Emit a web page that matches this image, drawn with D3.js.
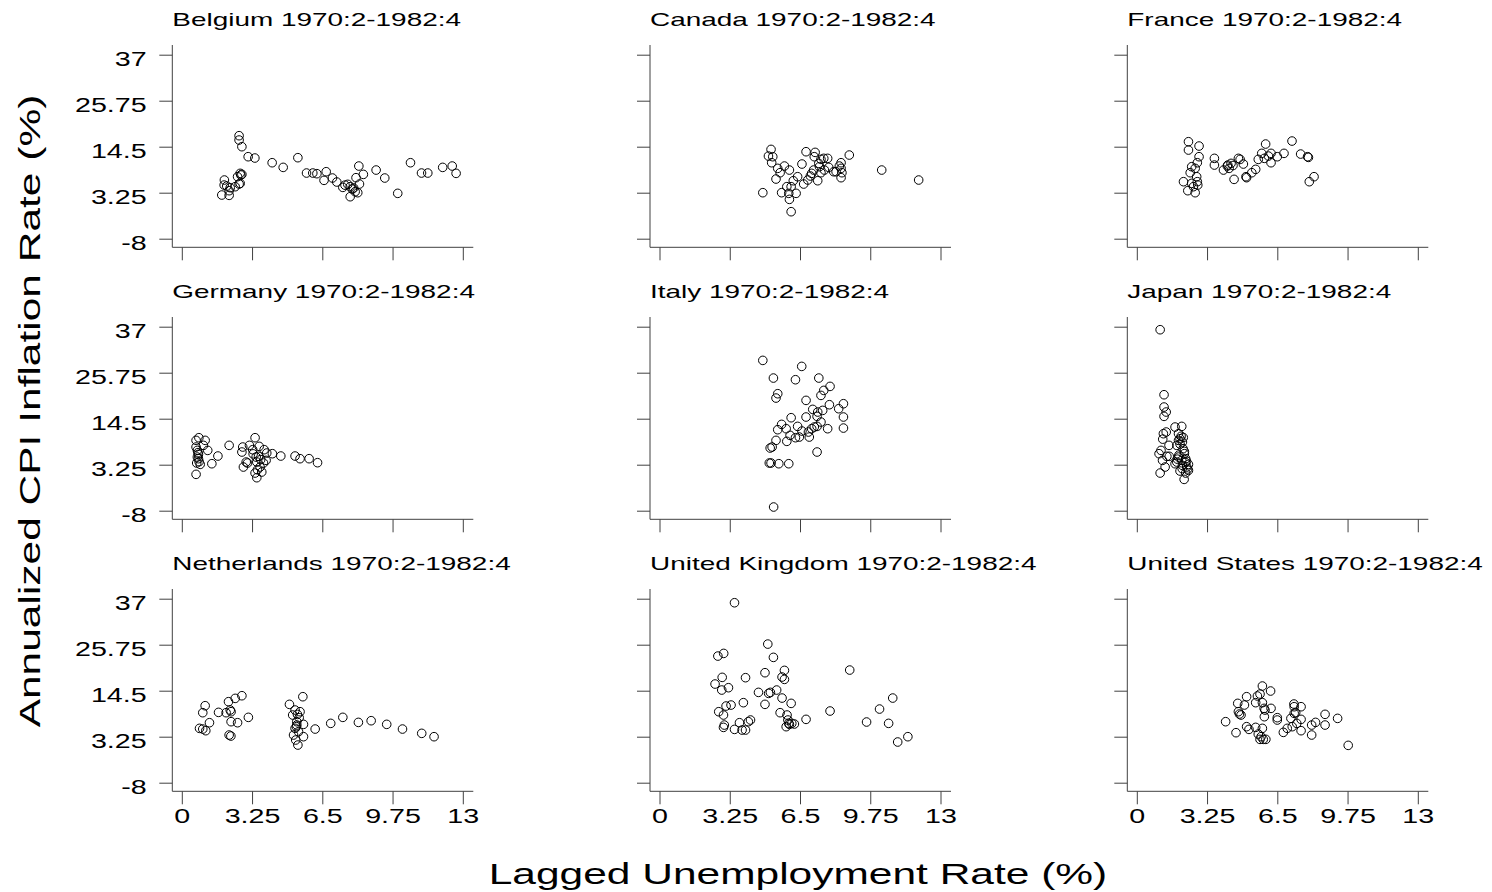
<!DOCTYPE html>
<html>
<head>
<meta charset="utf-8">
<script src="https://cdn.jsdelivr.net/npm/d3@7"></script>
<style>
  html, body { margin: 0; padding: 0; background: #fff; }
  svg { display: block; }
  text { font-family: "Liberation Sans", Arial, sans-serif; fill: #000; }
</style>
</head>
<body>
<script>
// ---- data: [lagged unemployment %, annualized CPI inflation %] ----
const belgium = [[2.65,17.19],[2.65,16.13],[2.78,14.5],[3.07,12.05],[3.38,11.73],[4.18,10.58],[4.69,9.44],[5.37,11.81],[5.77,8.06],[6.06,8.06],[6.25,7.9],[6.68,8.38],[6.58,6.27],[6.97,6.84],[7.17,5.86],[7.45,4.55],[7.68,5.29],[7.79,2.27],[7.89,4.15],[8.02,3.49],[8.14,3.25],[8.06,6.92],[8.19,9.77],[8.40,7.73],[8.22,5.37],[8.99,8.79],[9.39,6.84],[9.99,3.09],[10.58,10.58],[11.09,8.06],[11.38,8.06],[12.07,9.44],[12.51,9.77],[12.69,7.98],[1.85,2.68],[2.19,2.6],[1.97,6.35],[1.96,5.12],[2.08,4.88],[2.24,4.47],[2.19,3.74],[2.47,4.72],[2.65,5.37],[2.58,7.16],[2.70,7.98],[2.78,7.73],[2.73,7.57],[2.70,5.53],[7.79,4.72],[7.95,4.4],[7.55,5.1]];
const canada = [[4.78,3.25],[5.16,13.84],[5.04,12.21],[5.24,12.05],[5.19,10.58],[5.47,9.2],[5.58,8.14],[5.78,9.77],[6.01,8.79],[5.39,6.59],[5.65,3.25],[5.89,4.72],[5.98,3.09],[6.01,1.62],[6.09,-1.4],[6.32,3.09],[6.09,4.72],[6.19,6.18],[6.39,7.16],[6.59,10.26],[6.67,5.37],[6.78,13.27],[6.86,6.35],[6.98,7.33],[7.2,13.11],[7.16,12.05],[7.13,8.79],[7.32,6.18],[7.40,9.61],[7.47,11.4],[7.60,11.65],[7.47,8.14],[7.63,8.79],[7.78,11.65],[7.83,9.44],[8.06,8.38],[8.17,8.38],[8.32,9.77],[8.40,10.58],[8.40,9.2],[8.40,6.92],[8.44,8.14],[8.78,12.46],[10.28,8.79],[11.99,6.35],[7.37,10.42],[7.04,7.98]];
const france = [[2.39,15.72],[2.39,13.68],[2.88,14.66],[2.88,12.05],[2.80,10.58],[2.70,9.2],[2.54,9.61],[2.47,8.14],[2.16,5.94],[2.36,3.74],[2.70,3.25],[2.54,5.53],[2.77,7.16],[2.80,5.94],[2.82,5.12],[2.62,4.72],[3.59,11.65],[3.59,10.01],[4.01,8.79],[4.21,10.01],[4.27,9.2],[4.36,10.42],[4.50,6.51],[4.70,11.65],[4.78,11.4],[4.93,10.26],[5.05,7.16],[5.08,6.92],[5.32,8.14],[5.50,8.96],[5.62,11.4],[5.78,12.87],[5.90,11.65],[5.96,15.15],[6.09,12.21],[6.21,12.87],[6.21,10.58],[6.50,12.05],[6.81,12.87],[7.18,15.88],[7.58,12.7],[7.90,12.05],[7.94,11.89],[7.98,5.94],[8.20,7.16],[4.19,9.77],[4.45,9.9]];
const germany = [[0.66,9.2],[0.79,9.85],[1.08,9.2],[0.66,7.57],[0.72,6.75],[0.77,5.78],[0.77,4.72],[0.69,3.66],[0.85,3.33],[0.66,0.89],[1.0,7.98],[1.2,6.75],[1.39,3.49],[1.67,5.37],[2.19,7.98],[2.82,7.57],[2.78,6.35],[2.85,2.68],[2.98,3.9],[3.13,7.98],[3.28,6.92],[3.39,9.85],[3.44,5.12],[3.47,3.9],[3.47,0.07],[3.39,1.21],[3.70,1.46],[3.62,2.68],[3.78,3.66],[3.58,7.73],[3.81,6.92],[3.90,4.31],[3.93,6.1],[4.19,5.94],[4.58,5.37],[5.24,5.37],[5.47,4.72],[5.89,4.72],[6.28,3.74],[3.04,3.66],[3.55,5.29],[0.72,5.12],[0.75,6.2],[0.8,4.0],[3.5,2.0],[3.65,4.5],[3.3,5.9]];
const italy = [[4.78,28.76],[6.58,27.29],[5.27,24.44],[6.29,24.03],[7.37,24.44],[7.89,22.4],[7.60,21.42],[7.47,20.2],[5.47,20.61],[5.39,19.55],[6.78,18.98],[7.09,16.78],[7.32,16.13],[7.55,16.53],[7.86,17.92],[8.29,16.94],[8.51,18.16],[8.51,14.91],[8.51,12.21],[7.78,12.05],[7.29,15.07],[6.78,14.91],[6.09,14.74],[6.39,12.62],[6.59,11.48],[5.65,13.11],[5.47,11.81],[5.86,12.05],[6.04,10.42],[6.29,9.85],[6.47,10.01],[6.93,10.01],[7.04,12.05],[7.16,12.46],[7.29,12.62],[7.47,13.68],[5.39,9.2],[5.89,8.96],[5.21,7.57],[5.12,7.33],[5.16,3.66],[5.52,3.49],[5.98,3.49],[7.29,6.35],[5.28,-7.1],[6.89,11.24],[5.08,3.66]];
const japan = [[1.08,36.26],[1.26,20.36],[1.26,17.35],[1.36,16.13],[1.26,15.07],[1.23,10.83],[1.36,11.24],[1.49,7.98],[1.12,6.75],[1.03,5.94],[1.39,5.29],[1.19,4.31],[1.31,2.68],[1.08,1.21],[1.77,12.46],[2.08,12.62],[1.93,10.83],[2.0,9.61],[2.11,8.79],[1.85,7.98],[2.14,7.16],[1.85,3.9],[1.93,5.12],[2.08,4.31],[2.26,4.72],[2.39,3.33],[2.31,2.68],[2.0,1.7],[2.26,1.21],[2.19,-0.34],[2.11,3.09],[1.93,9.2],[2.2,5.94],[1.77,3.49],[2.39,1.86],[2.05,10.2],[2.15,9.9],[2.0,8.3],[2.2,6.5],[1.95,5.6],[2.3,4.1],[2.1,2.3],[2.25,3.8],[1.88,4.6],[2.35,2.2],[1.5,5.3],[1.2,9.5]];
const netherlands = [[0.82,5.29],[0.97,5.12],[1.11,4.72],[1.28,6.67],[0.97,9.12],[1.08,10.83],[1.70,9.2],[2.05,9.12],[2.16,11.81],[2.47,12.62],[2.78,13.27],[2.24,9.77],[2.28,9.36],[2.28,6.92],[2.58,6.67],[2.19,3.66],[2.27,3.41],[3.08,7.98],[4.98,11.16],[5.60,13.03],[5.24,9.77],[5.47,9.36],[5.13,8.55],[5.32,6.92],[5.63,6.27],[5.24,5.29],[5.40,4.47],[5.63,3.25],[5.27,2.44],[5.37,1.21],[5.32,6.1],[5.43,7.9],[6.17,5.12],[6.89,6.51],[7.45,7.98],[8.17,6.75],[8.76,7.16],[9.48,6.27],[10.21,5.12],[11.10,4.07],[11.67,3.25],[5.17,3.66],[5.3,5.7],[5.35,8.7]];
const unitedKingdom = [[3.47,36.01],[2.70,22.97],[2.97,23.62],[2.90,17.76],[2.57,16.13],[2.88,14.66],[3.19,15.23],[3.98,17.68],[2.74,9.36],[2.96,8.55],[3.0,6.1],[2.96,5.53],[3.08,10.75],[3.31,10.99],[3.47,5.04],[3.70,6.67],[3.82,4.88],[3.98,4.88],[4.11,6.92],[4.21,7.33],[3.88,11.57],[4.58,14.09],[4.88,18.9],[5.01,25.9],[5.27,22.65],[4.88,11.16],[5.05,13.84],[5.13,14.09],[5.42,14.66],[5.78,19.47],[5.67,17.84],[5.78,17.27],[5.67,12.7],[6.09,11.4],[5.58,9.12],[5.90,8.55],[5.94,7.33],[5.86,5.7],[6.01,6.27],[6.12,6.51],[6.24,6.35],[6.78,7.49],[7.89,9.53],[8.80,19.55],[9.58,6.84],[10.18,10.01],[10.79,12.7],[10.60,6.51],[11.02,1.95],[11.49,3.25],[5.98,6.51]];
const unitedStates = [[4.11,6.92],[4.59,4.23],[4.67,11.4],[4.70,9.36],[4.82,8.55],[4.98,11.0],[5.08,13.03],[5.08,5.7],[5.19,5.04],[5.50,11.57],[5.58,13.2],[5.70,13.68],[5.81,15.64],[5.81,11.57],[5.89,10.18],[5.93,9.77],[5.90,8.14],[6.19,14.42],[6.21,10.18],[5.50,5.53],[5.81,5.29],[5.62,3.9],[5.75,3.25],[5.70,2.6],[5.85,2.6],[5.97,2.6],[6.50,7.9],[6.50,7.33],[6.78,4.31],[6.96,5.29],[7.19,5.7],[7.13,7.73],[7.27,11.24],[7.28,10.58],[7.35,9.12],[7.40,6.51],[7.60,10.58],[7.60,7.49],[7.60,4.72],[8.09,6.1],[8.09,3.66],[8.27,6.75],[8.71,8.72],[8.71,6.1],[9.29,7.73],[9.78,1.13],[7.28,8.96],[4.75,8.8]];

const countries = ["Belgium","Canada","France","Germany","Italy","Japan","Netherlands","United Kingdom","United States"];
const countryData = [belgium, canada, france, germany, italy, japan, netherlands, unitedKingdom, unitedStates];
const period = "1970:2-1982:4";
const xTicks = [0, 3.25, 6.5, 9.75, 13];
const xTickLabels = ["0", "3.25", "6.5", "9.75", "13"];
const yTicks = [-8, 3.25, 14.5, 25.75, 37];
const yTickLabels = ["-8", "3.25", "14.5", "25.75", "37"];
const xTitle = "Lagged Unemployment Rate (%)";
const yTitle = "Annualized CPI Inflation Rate (%)";

// ---- layout ----
const W = 1492, H = 892;
const colX = [172.3, 650, 1127.3];   // y-axis line x per column
const rowY = [247.3, 519.3, 791.3];  // x-axis line y per row
const SX = 1.47;                     // horizontal text stretch
const axisColor = "#404040";

const svg = d3.select("body").append("svg").attr("width", W).attr("height", H);
svg.append("rect").attr("width", W).attr("height", H).attr("fill", "#fff");

countries.forEach((name, i) => {
  const c = i % 3, r = Math.floor(i / 3);
  const X0 = colX[c], Y0 = rowY[r];
  const x = d3.scaleLinear().domain([0, 13]).range([X0 + 9.5, X0 + 290.5]);
  const y = d3.scaleLinear().domain([-8, 37]).range([Y0 - 8.6, Y0 - 192.6]);
  const g = svg.append("g");

  // title
  g.append("text")
    .attr("transform", `translate(${X0},${Y0 - 221.3}) scale(${SX},1)`)
    .attr("font-size", 19)
    .text(`${name} ${period}`);

  // y axis
  const ya = g.append("g").attr("transform", `translate(${X0},0)`)
    .call(d3.axisLeft(y).tickValues(yTicks).tickSize(13)
      .tickFormat((d, k) => c === 0 ? yTickLabels[k] : ""));
  ya.select(".domain").remove();
  ya.selectAll(".tick line").attr("stroke", axisColor);
  ya.selectAll(".tick text")
    .attr("x", null).attr("dy", null)
    .attr("transform", `translate(-25.6,11) scale(${SX},1)`)
    .attr("font-size", 19.5).attr("fill", "#000")
    .attr("font-family", null);
  g.append("line").attr("x1", X0).attr("x2", X0)
    .attr("y1", Y0 - 202.3).attr("y2", Y0)
    .attr("stroke", axisColor).attr("stroke-width", 1);

  // x axis
  const xa = g.append("g").attr("transform", `translate(0,${Y0})`)
    .call(d3.axisBottom(x).tickValues(xTicks).tickSize(13)
      .tickFormat((d, k) => r === 2 ? xTickLabels[k] : ""));
  xa.select(".domain").remove();
  xa.selectAll(".tick line").attr("stroke", axisColor);
  xa.selectAll(".tick text")
    .attr("y", null).attr("dy", null)
    .attr("transform", `translate(0,32) scale(${SX},1)`)
    .attr("font-size", 19.5).attr("fill", "#000")
    .attr("font-family", null);
  g.append("line").attr("x1", X0).attr("x2", X0 + 301)
    .attr("y1", Y0).attr("y2", Y0)
    .attr("stroke", axisColor).attr("stroke-width", 1);

  // points
  g.append("g").selectAll("circle").data(countryData[i]).join("circle")
    .attr("cx", d => x(d[0]))
    .attr("cy", d => y(d[1]))
    .attr("r", 4.3)
    .attr("fill", "none")
    .attr("stroke", "#000")
    .attr("stroke-width", 1);
});

// axis titles
svg.append("text")
  .attr("transform", `translate(798,884) scale(1.44,1)`)
  .attr("text-anchor", "middle")
  .attr("font-size", 29.5)
  .text(xTitle);

svg.append("text")
  .attr("transform", `translate(40,411) rotate(-90) scale(1.44,1)`)
  .attr("text-anchor", "middle")
  .attr("font-size", 29.5)
  .text(yTitle);
</script>
</body>
</html>
